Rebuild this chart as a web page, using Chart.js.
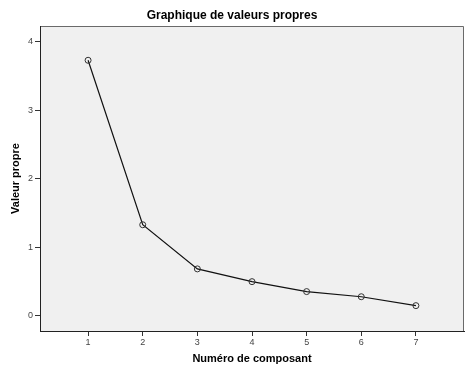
<!DOCTYPE html>
<html>
<head>
<meta charset="utf-8">
<script src="https://cdn.jsdelivr.net/npm/chart.js@4/dist/chart.umd.min.js"></script>
<style>
  html, body { margin: 0; padding: 0; background: #fff; }
  #wrap { width: 469px; height: 375px; }
</style>
</head>
<body>
<div id="wrap"><canvas id="chart" width="469" height="375"></canvas></div>
<script>
const components = [1, 2, 3, 4, 5, 6, 7]
const eigenvalues = [3.73, 1.33, 0.686, 0.50, 0.355, 0.28, 0.15]
const xTicks = [1, 2, 3, 4, 5, 6, 7]
const yTicks = [0, 1, 2, 3, 4]

const FONT = "'Liberation Sans', Arial, sans-serif"

// grey panel + frame behind the plot
const panel = {
  id: 'panel',
  beforeDraw(chart){
    const {ctx, chartArea: a} = chart
    ctx.save()
    ctx.fillStyle = '#f0f0f0'
    ctx.fillRect(a.left, a.top, a.right - a.left, a.bottom - a.top)
    ctx.lineWidth = 1
    ctx.strokeStyle = '#6a6a6a'
    ctx.beginPath()
    ctx.moveTo(a.left, a.top + 0.5)
    ctx.lineTo(a.right - 0.5, a.top + 0.5)
    ctx.lineTo(a.right - 0.5, a.bottom)
    ctx.stroke()
    ctx.restore()
  }
}

const tickFont = {family: FONT, size: 9}
const axisTitleFont = {family: FONT, size: 11, weight: 'bold'}

new Chart(document.getElementById('chart'), {
  type: 'line',
  data: {
    datasets: [{
      data: components.map((c, i) => ({x: c, y: eigenvalues[i]})),
      borderColor: '#111',
      borderWidth: 1.2,
      pointRadius: 3,
      pointBackgroundColor: 'rgba(0,0,0,0)',
      pointBorderColor: '#333',
      pointBorderWidth: 1,
      tension: 0
    }]
  },
  options: {
    responsive: false,
    animation: false,
    layout: {padding: {top: 0, right: 5, bottom: 0, left: 0}},
    plugins: {
      legend: {display: false},
      tooltip: {enabled: false},
      title: {
        display: true,
        text: 'Graphique de valeurs propres',
        color: '#000',
        font: {family: FONT, size: 12, weight: 'bold'},
        padding: {top: 8, bottom: 3.6}
      }
    },
    scales: {
      x: {
        type: 'linear',
        min: 0.12,
        max: 7.88,
        afterBuildTicks: s => { s.ticks = xTicks.map(v => ({value: v})) },
        afterFit: s => { s.height = 44 },
        grid: {drawOnChartArea: false, drawTicks: true, tickLength: 5, color: '#333'},
        border: {display: true, color: '#222', width: 1},
        ticks: {color: '#444', font: tickFont, padding: 1, maxRotation: 0},
        title: {display: true, text: 'Numéro de composant', color: '#000', font: axisTitleFont, padding: {top: 0, bottom: 9.5}}
      },
      y: {
        type: 'linear',
        min: -0.22,
        max: 4.23,
        afterBuildTicks: s => { s.ticks = yTicks.map(v => ({value: v})) },
        afterFit: s => { s.width = 40 },
        grid: {drawOnChartArea: false, drawTicks: true, tickLength: 5, color: '#333'},
        border: {display: true, color: '#222', width: 1},
        ticks: {color: '#444', font: tickFont, padding: 2},
        title: {display: true, text: 'Valeur propre', color: '#000', font: axisTitleFont, padding: {top: 9.5, bottom: 0}}
      }
    }
  },
  plugins: [panel]
})
</script>
</body>
</html>
